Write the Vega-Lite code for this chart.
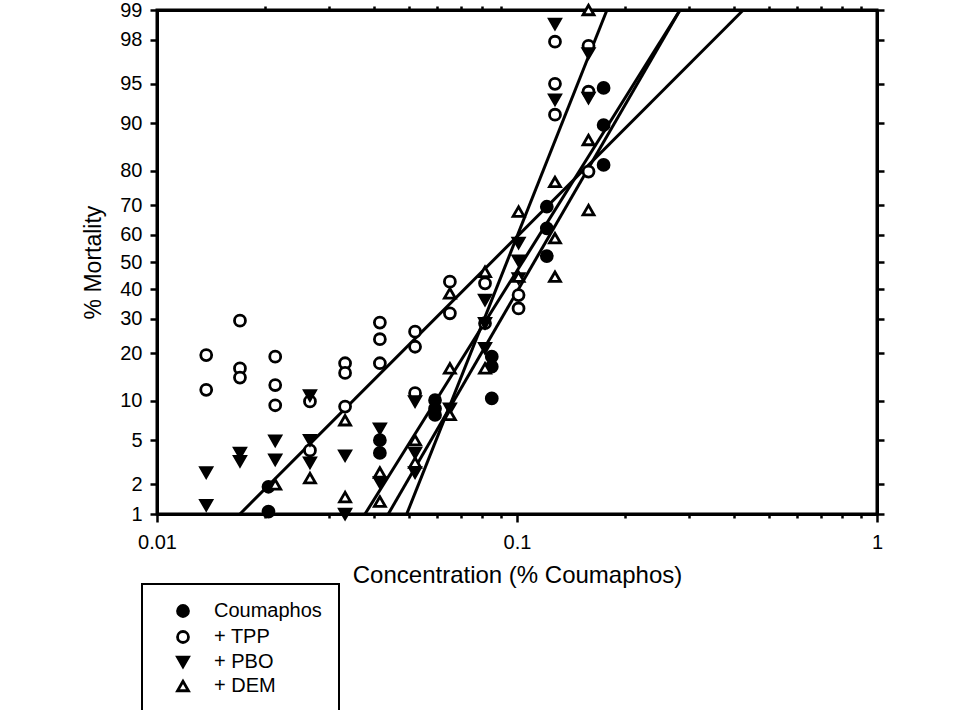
{
  "$schema": "https://vega.github.io/schema/vega-lite/v6.json",
  "width": 720,
  "height": 504,
  "autosize": {"type": "none"},
  "padding": {"left": 157, "top": 10, "right": 83, "bottom": 196},
  "background": "white",
  "config": {
    "font": "Liberation Sans",
    "view": {"stroke": "black", "strokeWidth": 3},
    "axis": {
      "domainColor": "black", "domainWidth": 3, "tickColor": "black", "tickWidth": 2.5,
      "labelColor": "black", "titleColor": "black", "labelFontSize": 20, "titleFontSize": 23,
      "titleFontWeight": "normal", "grid": false, "labelFont": "Liberation Sans", "titleFont": "Liberation Sans"
    },
    "legend": {
      "orient": "none", "legendX": -15, "legendY": 574, "strokeColor": "black", "fillColor": "white",
      "padding": 17, "labelFontSize": 20, "labelColor": "black", "labelFont": "Liberation Sans",
      "symbolOffset": 14, "labelOffset": 21, "rowPadding": 2, "symbolSize": 120,
      "symbolStrokeWidth": 2.8, "strokeWidth": 2, "labelLimit": 300
    }
  },
  "datasets": {
    "fits": [
      {"series": "+ TPP", "conc": 0.0170, "pct": 1},
      {"series": "+ TPP", "conc": 0.4253, "pct": 99},
      {"series": "Coumaphos", "conc": 0.03783, "pct": 1},
      {"series": "Coumaphos", "conc": 0.2837, "pct": 99},
      {"series": "+ PBO", "conc": 0.0439, "pct": 1},
      {"series": "+ PBO", "conc": 0.2837, "pct": 99},
      {"series": "+ DEM", "conc": 0.0494, "pct": 1},
      {"series": "+ DEM", "conc": 0.1778, "pct": 99}
    ],
    "pts": [
      {"series": "Coumaphos", "conc": 0.0204, "pct": 1.06},
      {"series": "Coumaphos", "conc": 0.0204, "pct": 1.9},
      {"series": "Coumaphos", "conc": 0.0416, "pct": 5.0},
      {"series": "Coumaphos", "conc": 0.0416, "pct": 3.9},
      {"series": "Coumaphos", "conc": 0.0592, "pct": 10.1},
      {"series": "Coumaphos", "conc": 0.0592, "pct": 8.8},
      {"series": "Coumaphos", "conc": 0.0592, "pct": 7.9},
      {"series": "Coumaphos", "conc": 0.0851, "pct": 19.1},
      {"series": "Coumaphos", "conc": 0.0851, "pct": 16.7},
      {"series": "Coumaphos", "conc": 0.0851, "pct": 10.4},
      {"series": "Coumaphos", "conc": 0.121, "pct": 69.5},
      {"series": "Coumaphos", "conc": 0.121, "pct": 62.2},
      {"series": "Coumaphos", "conc": 0.121, "pct": 52.2},
      {"series": "Coumaphos", "conc": 0.174, "pct": 94.6},
      {"series": "Coumaphos", "conc": 0.174, "pct": 89.7},
      {"series": "Coumaphos", "conc": 0.174, "pct": 81.5},
      {"series": "+ TPP", "conc": 0.0137, "pct": 19.5},
      {"series": "+ TPP", "conc": 0.0137, "pct": 11.9},
      {"series": "+ TPP", "conc": 0.0170, "pct": 29.4},
      {"series": "+ TPP", "conc": 0.0170, "pct": 16.3},
      {"series": "+ TPP", "conc": 0.0170, "pct": 14.3},
      {"series": "+ TPP", "conc": 0.0213, "pct": 19.1},
      {"series": "+ TPP", "conc": 0.0213, "pct": 12.8},
      {"series": "+ TPP", "conc": 0.0213, "pct": 9.3},
      {"series": "+ TPP", "conc": 0.0266, "pct": 9.9},
      {"series": "+ TPP", "conc": 0.0266, "pct": 4.1},
      {"series": "+ TPP", "conc": 0.0333, "pct": 17.5},
      {"series": "+ TPP", "conc": 0.0333, "pct": 15.3},
      {"series": "+ TPP", "conc": 0.0333, "pct": 9.1},
      {"series": "+ TPP", "conc": 0.0416, "pct": 28.8},
      {"series": "+ TPP", "conc": 0.0416, "pct": 23.8},
      {"series": "+ TPP", "conc": 0.0416, "pct": 17.5},
      {"series": "+ TPP", "conc": 0.0521, "pct": 26.0},
      {"series": "+ TPP", "conc": 0.0521, "pct": 21.7},
      {"series": "+ TPP", "conc": 0.0521, "pct": 11.3},
      {"series": "+ TPP", "conc": 0.0651, "pct": 42.8},
      {"series": "+ TPP", "conc": 0.0651, "pct": 31.8},
      {"series": "+ TPP", "conc": 0.0815, "pct": 42.2},
      {"series": "+ TPP", "conc": 0.0815, "pct": 28.6},
      {"series": "+ TPP", "conc": 0.101, "pct": 38.0},
      {"series": "+ TPP", "conc": 0.101, "pct": 33.4},
      {"series": "+ TPP", "conc": 0.1275, "pct": 97.9},
      {"series": "+ TPP", "conc": 0.1275, "pct": 95.0},
      {"series": "+ TPP", "conc": 0.1275, "pct": 91.3},
      {"series": "+ TPP", "conc": 0.158, "pct": 97.7},
      {"series": "+ TPP", "conc": 0.158, "pct": 94.2},
      {"series": "+ TPP", "conc": 0.158, "pct": 79.8},
      {"series": "+ PBO", "conc": 0.0137, "pct": 2.6},
      {"series": "+ PBO", "conc": 0.0137, "pct": 1.24},
      {"series": "+ PBO", "conc": 0.0170, "pct": 3.9},
      {"series": "+ PBO", "conc": 0.0170, "pct": 3.3},
      {"series": "+ PBO", "conc": 0.0213, "pct": 4.95},
      {"series": "+ PBO", "conc": 0.0213, "pct": 3.4},
      {"series": "+ PBO", "conc": 0.0266, "pct": 10.9},
      {"series": "+ PBO", "conc": 0.0266, "pct": 5.0},
      {"series": "+ PBO", "conc": 0.0266, "pct": 3.2},
      {"series": "+ PBO", "conc": 0.0333, "pct": 3.7},
      {"series": "+ PBO", "conc": 0.0333, "pct": 1.0},
      {"series": "+ PBO", "conc": 0.0416, "pct": 6.2},
      {"series": "+ PBO", "conc": 0.0416, "pct": 2.1},
      {"series": "+ PBO", "conc": 0.0521, "pct": 9.9},
      {"series": "+ PBO", "conc": 0.0521, "pct": 3.9},
      {"series": "+ PBO", "conc": 0.0521, "pct": 2.6},
      {"series": "+ PBO", "conc": 0.0651, "pct": 8.8},
      {"series": "+ PBO", "conc": 0.0815, "pct": 36.3},
      {"series": "+ PBO", "conc": 0.0815, "pct": 28.6},
      {"series": "+ PBO", "conc": 0.0815, "pct": 21.3},
      {"series": "+ PBO", "conc": 0.101, "pct": 57.0},
      {"series": "+ PBO", "conc": 0.101, "pct": 50.5},
      {"series": "+ PBO", "conc": 0.101, "pct": 44.0},
      {"series": "+ PBO", "conc": 0.1275, "pct": 98.6},
      {"series": "+ PBO", "conc": 0.1275, "pct": 93.3},
      {"series": "+ PBO", "conc": 0.158, "pct": 97.3},
      {"series": "+ PBO", "conc": 0.158, "pct": 93.5},
      {"series": "+ DEM", "conc": 0.0213, "pct": 2.0},
      {"series": "+ DEM", "conc": 0.0266, "pct": 2.3},
      {"series": "+ DEM", "conc": 0.0333, "pct": 7.2},
      {"series": "+ DEM", "conc": 0.0333, "pct": 1.5},
      {"series": "+ DEM", "conc": 0.0416, "pct": 2.6},
      {"series": "+ DEM", "conc": 0.0416, "pct": 1.35},
      {"series": "+ DEM", "conc": 0.0521, "pct": 5.0},
      {"series": "+ DEM", "conc": 0.0521, "pct": 3.2},
      {"series": "+ DEM", "conc": 0.0651, "pct": 38.6},
      {"series": "+ DEM", "conc": 0.0651, "pct": 16.3},
      {"series": "+ DEM", "conc": 0.0651, "pct": 7.9},
      {"series": "+ DEM", "conc": 0.0815, "pct": 46.4},
      {"series": "+ DEM", "conc": 0.0815, "pct": 16.3},
      {"series": "+ DEM", "conc": 0.101, "pct": 67.9},
      {"series": "+ DEM", "conc": 0.101, "pct": 44.6},
      {"series": "+ DEM", "conc": 0.1275, "pct": 77.0},
      {"series": "+ DEM", "conc": 0.1275, "pct": 58.7},
      {"series": "+ DEM", "conc": 0.1275, "pct": 44.6},
      {"series": "+ DEM", "conc": 0.158, "pct": 99.0},
      {"series": "+ DEM", "conc": 0.158, "pct": 87.0},
      {"series": "+ DEM", "conc": 0.158, "pct": 68.4}
    ]
  },
  "layer": [
    {
      "data": {"name": "fits"},
      "transform": [{"calculate": "quantileNormal(datum.pct / 100)", "as": "probit"}],
      "mark": {"type": "line", "color": "black", "strokeWidth": 3},
      "encoding": {
        "x": {
          "field": "conc", "type": "quantitative",
          "scale": {"type": "log", "domain": [0.01, 1], "nice": false},
          "axis": {
            "orient": "bottom", "title": "Concentration (% Coumaphos)", "titleFontSize": 24,
            "values": [0.01, 0.02, 0.03, 0.04, 0.05, 0.06, 0.07, 0.08, 0.09, 0.1, 0.2, 0.3, 0.4, 0.5, 0.6, 0.7, 0.8, 0.9, 1],
            "labelExpr": "datum.value == 0.01 ? '0.01' : datum.value == 0.1 ? '0.1' : datum.value == 1 ? '1' : ''",
            "tickSize": {"condition": {"test": "datum.value == 0.01 || datum.value == 0.1 || datum.value == 1", "value": 8}, "value": 4},
            "labelPadding": 10, "titlePadding": 11, "labelFlush": false, "labelOverlap": false
          }
        },
        "y": {
          "field": "probit", "type": "quantitative",
          "scale": {"domain": [-2.326348, 2.326348], "nice": false, "zero": false},
          "axis": {
            "orient": "left", "title": "% Mortality",
            "values": [-2.326348, -2.053749, -1.644854, -1.281552, -0.841621, -0.524401, -0.253347, 0, 0.253347, 0.524401, 0.841621, 1.281552, 1.644854, 2.053749, 2.326348],
            "labelExpr": "format(cumulativeNormal(datum.value) * 100, '.0f')",
            "tickSize": 7, "labelPadding": 8, "titlePadding": 14, "labelFlush": false, "labelOverlap": false
          }
        },
        "detail": {"field": "series", "type": "nominal"}
      }
    },
    {
      "data": {"name": "pts"},
      "transform": [{"calculate": "quantileNormal(datum.pct / 100)", "as": "probit"}],
      "mark": {"type": "point", "filled": true, "strokeWidth": 2.8, "size": 120, "opacity": 1},
      "encoding": {
        "x": {
          "field": "conc", "type": "quantitative",
          "scale": {"type": "log", "domain": [0.01, 1], "nice": false},
          "axis": {
            "orient": "top", "title": null, "labels": false,
            "values": [0.02, 0.03, 0.04, 0.05, 0.06, 0.07, 0.08, 0.09, 0.2, 0.3, 0.4, 0.5, 0.6, 0.7, 0.8, 0.9],
            "tickSize": 4
          }
        },
        "y": {
          "field": "probit", "type": "quantitative",
          "scale": {"domain": [-2.326348, 2.326348], "nice": false, "zero": false},
          "axis": {
            "orient": "right", "title": null, "labels": false,
            "values": [-2.326348, -2.053749, -1.644854, -1.281552, -0.841621, -0.524401, -0.253347, 0, 0.253347, 0.524401, 0.841621, 1.281552, 1.644854, 2.053749, 2.326348],
            "tickSize": 7
          }
        },
        "shape": {
          "field": "series", "type": "nominal", "title": null,
          "scale": {"domain": ["Coumaphos", "+ TPP", "+ PBO", "+ DEM"], "range": ["circle", "circle", "triangle-down", "triangle-up"]}
        },
        "fill": {
          "field": "series", "type": "nominal", "title": null,
          "scale": {"domain": ["Coumaphos", "+ TPP", "+ PBO", "+ DEM"], "range": ["black", "white", "black", "white"]}
        },
        "stroke": {
          "field": "series", "type": "nominal", "title": null,
          "scale": {"domain": ["Coumaphos", "+ TPP", "+ PBO", "+ DEM"], "range": ["black", "black", "black", "black"]}
        }
      }
    }
  ],
  "resolve": {"axis": {"x": "independent", "y": "independent"}}
}
